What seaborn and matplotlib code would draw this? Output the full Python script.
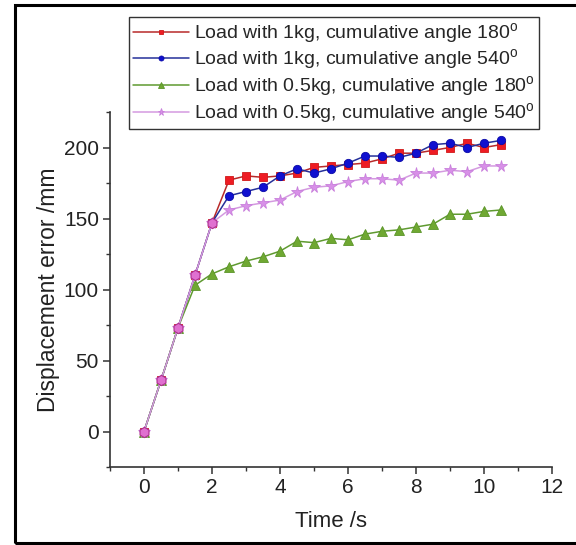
import matplotlib
matplotlib.use("Agg")
import matplotlib.pyplot as plt
from matplotlib.patches import Rectangle
from matplotlib.ticker import MultipleLocator
import seaborn as sns

time_s = [0, 0.5, 1, 1.5, 2, 2.5, 3, 3.5, 4, 4.5, 5, 5.5, 6, 6.5, 7, 7.5, 8, 8.5, 9, 9.5, 10, 10.5]

load1_180 = [0, 36, 73, 110, 147, 177, 180, 179, 180, 182, 186, 187, 188, 189, 192, 196, 196, 198, 200, 203, 200, 202]
load1_540 = [0, 36, 73, 110, 147, 166, 169, 172, 180, 185, 182, 185, 189, 194, 194, 193, 196, 202, 203, 200, 203, 205]
load05_180 = [0, 36, 73, 103, 111, 116, 120, 123, 127, 134, 133, 136, 135, 139, 141, 142, 144, 146, 153, 153, 155, 156]
load05_540 = [0, 36, 73, 110, 147, 156, 159, 161, 163, 169, 172, 173, 176, 178, 178, 177, 182, 182, 184, 183, 187, 187]

labels = [
    "Load with 1kg, cumulative angle 180$^\\mathrm{o}$",
    "Load with 1kg, cumulative angle 540$^\\mathrm{o}$",
    "Load with 0.5kg, cumulative angle 180$^\\mathrm{o}$",
    "Load with 0.5kg, cumulative angle 540$^\\mathrm{o}$",
]
shared_n = 5  # first points common to the curves

sns.set_style("ticks")
plt.rcParams["font.family"] = ["Liberation Sans", "DejaVu Sans"]
plt.rcParams["mathtext.fontset"] = "custom"
plt.rcParams["mathtext.rm"] = "Liberation Sans"

fig = plt.figure(figsize=(5.76, 5.45), dpi=100)
ax = fig.add_axes([110 / 576, 1 - 467 / 545, (552 - 110) / 576, (467 - 112) / 545])

series = [
    (load1_180, "#b82a2a", "s", 5.5, "#ee1c24", "#d01818"),
    (load1_540, "#25309a", "o", 6, "#1010d0", "#0a0aa8"),
    (load05_180, "#5f9a30", "^", 6.5, "#6fa832", "#5a9428"),
    (load05_540, "#d49ae0", "*", 8.5, "#d890e8", "#c980dc"),
]

for (vals, lc, mk, ms, mfc, mec), lab in zip(series, labels):
    sns.lineplot(x=time_s, y=vals, ax=ax, color=lc, linewidth=1.1,
                 marker=mk, markersize=ms, markerfacecolor=mfc,
                 markeredgecolor=mec, markeredgewidth=0.6, label=lab)

# common early points look like pink/magenta overlapping markers
sns.scatterplot(x=time_s[:shared_n], y=load05_540[:shared_n], ax=ax,
                marker="h", s=55, color="#e070d0", edgecolor="#b03090",
                linewidth=0.8, zorder=5, legend=False)

ax.set_xlim(-1, 12)
ax.set_ylim(-25, 225)
ax.xaxis.set_major_locator(MultipleLocator(2))
ax.xaxis.set_minor_locator(MultipleLocator(1))
ax.yaxis.set_major_locator(MultipleLocator(50))
ax.yaxis.set_minor_locator(MultipleLocator(25))
sns.despine(ax=ax)
for sp in ["left", "bottom"]:
    ax.spines[sp].set_linewidth(1.2)
    ax.spines[sp].set_color("#333333")
ax.tick_params(which="major", direction="out", length=5, width=1.1,
               labelsize=15, pad=3, color="#333333", labelcolor="#222222")
ax.tick_params(which="minor", direction="out", length=3, width=1.0, color="#333333")

ax.set_xlabel("Time /s", fontsize=16, color="#222222", labelpad=10)
ax.set_ylabel("Displacement error /mm", fontsize=16.5, color="#222222", labelpad=3)

handles, labs = ax.get_legend_handles_labels()
leg = ax.legend(handles[:4], labs[:4], loc="upper left",
                bbox_to_anchor=(129 / 576, 1 - 17 / 545), bbox_transform=fig.transFigure,
                borderaxespad=0, fontsize=14, frameon=True, fancybox=False,
                edgecolor="#333333", framealpha=1, markerscale=0.6,
                handlelength=2.9, handletextpad=0.25, labelspacing=0.1,
                borderpad=0.2)
leg.get_frame().set_linewidth(1.0)

fig.patches.append(Rectangle((15 / 576, 1 - 543 / 545), 1.2, (543 - 5) / 545,
                             transform=fig.transFigure, fill=False,
                             edgecolor="black", linewidth=2.2))

fig.savefig("out.png", dpi=100)
